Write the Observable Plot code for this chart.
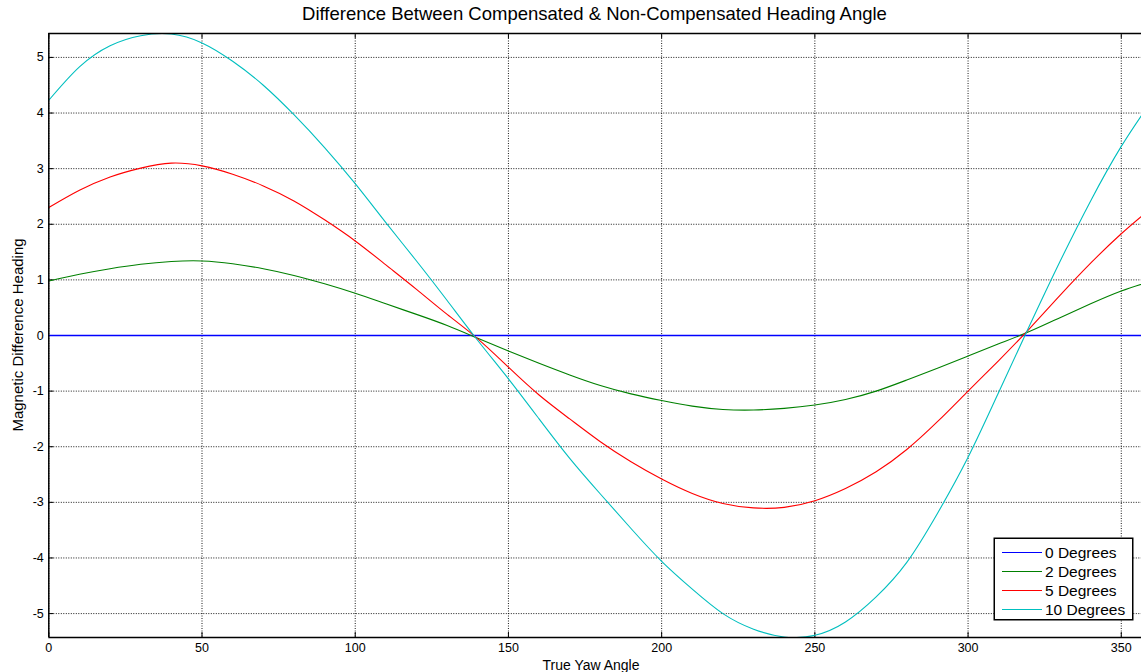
<!DOCTYPE html>
<html><head><meta charset="utf-8">
<script src="https://cdn.jsdelivr.net/npm/d3@7"></script>
<script src="https://cdn.jsdelivr.net/npm/@observablehq/plot@0.6"></script>
<style>
html,body{margin:0;padding:0;background:#fff;overflow:hidden}
#wrap{position:relative;width:1141px;height:672px;font-family:"Liberation Sans",Arial,sans-serif;color:#000;overflow:hidden}
#title{box-sizing:border-box;height:28px;padding-top:4px;line-height:20px;font-size:18.5px;padding-left:48px;text-align:center;white-space:nowrap}
#chart svg{display:block;overflow:hidden}
#ylab{position:absolute;left:17px;top:335px;transform:translate(-50%,-50%) rotate(-90deg);font-size:15px;white-space:nowrap}
#xlab{position:absolute;left:591px;top:656px;transform:translateX(-50%);font-size:14px;line-height:18px;white-space:nowrap}
#legend{position:absolute;left:994px;top:538px;width:139px;height:82px;box-sizing:border-box;border:1px solid #000;box-shadow:0 0 0 0.5px #000;background:#fff;padding-top:4px}
#legend .row{position:relative;height:19px;font-size:15.5px;line-height:19px;white-space:nowrap;padding-left:50px}
#legend .sw{position:absolute;left:7px;top:9px;width:40px;height:1px}
</style></head>
<body>
<div id="wrap">
  <div id="title">Difference Between Compensated &amp; Non-Compensated Heading Angle</div>
  <div id="chart"></div>
  <div id="ylab">Magnetic Difference Heading</div>
  <div id="xlab">True Yaw Angle</div>
  <div id="legend"></div>
</div>
<script>
// ---- data ----
const angles = [0,10,20,30,40,50,60,70,80,90,100,110,120,130,140,150,160,170,180,190,200,210,220,230,240,250,260,270,280,290,300,310,320,330,340,350,360];
const diff0  = [0,0,0,0,0,0,0,0,0,0,0,0,0,0,0,0,0,0,0,0,0,0,0,0,0,0,0,0,0,0,0,0,0,0,0,0,0];
const diff2  = [0.98,1.10,1.20,1.28,1.33,1.34,1.29,1.20,1.08,0.93,0.76,0.57,0.38,0.18,-0.05,-0.28,-0.50,-0.71,-0.90,-1.05,-1.17,-1.27,-1.33,-1.34,-1.31,-1.25,-1.15,-1.00,-0.80,-0.59,-0.37,-0.15,0.07,0.32,0.57,0.80,0.98];
const diff5  = [2.30,2.61,2.85,3.01,3.10,3.05,2.90,2.69,2.42,2.08,1.70,1.27,0.83,0.38,-0.06,-0.57,-1.07,-1.50,-1.91,-2.27,-2.58,-2.84,-3.02,-3.10,-3.09,-2.97,-2.75,-2.45,-2.05,-1.55,-1.00,-0.45,0.12,0.72,1.30,1.83,2.30];
const diff10 = [4.23,4.83,5.21,5.39,5.42,5.26,4.93,4.50,3.97,3.38,2.73,2.03,1.34,0.63,-0.09,-0.78,-1.50,-2.21,-2.85,-3.47,-4.06,-4.56,-5.00,-5.28,-5.42,-5.39,-5.15,-4.70,-4.08,-3.20,-2.19,-1.02,0.17,1.33,2.42,3.40,4.23];
const seriesNames = ["0 Degrees","2 Degrees","5 Degrees","10 Degrees"];
const seriesColors = ["#0000FF","#008000","#FF0000","#00BFBF"];
const xTicks = [0,50,100,150,200,250,300,350];
const yTicks = [-5,-4,-3,-2,-1,0,1,2,3,4,5];
const xDomain = [0, 356.6];
const yDomain = [-5.43, 5.43];

const seriesValues = [diff0, diff2, diff5, diff10];
const rows = [];
seriesValues.forEach((vals, s) => vals.forEach((v, i) => rows.push({angle: angles[i], value: v, series: seriesNames[s]})));

const W = 1141, H = 644, mL = 48.3, mT = 5, mB = 35, mR = 0;
const innerH = H - mT - mB, innerW = W - mL - mR;

const chart = Plot.plot({
  width: W, height: H,
  marginLeft: mL, marginRight: mR, marginTop: mT, marginBottom: mB,
  style: {fontFamily: '"Liberation Sans", Arial, sans-serif', fontSize: "12.5px", color: "#000", background: "#fff", overflow: "hidden"},
  x: {domain: xDomain, ticks: xTicks},
  y: {domain: yDomain, ticks: yTicks},
  color: {domain: seriesNames, range: seriesColors},
  marks: [
    Plot.gridX(xTicks, {stroke: "#000", strokeOpacity: 0.9, strokeDasharray: "1,1.5"}),
    Plot.gridY(yTicks, {stroke: "#000", strokeOpacity: 0.9, strokeDasharray: "1,1.5"}),
    Plot.tickX(xTicks, {x: d => d, insetTop: innerH - 5, stroke: "#000"}),
    Plot.tickX(xTicks, {x: d => d, insetBottom: innerH - 5, stroke: "#000"}),
    Plot.tickY(yTicks, {y: d => d, insetRight: innerW - 5, stroke: "#000"}),
    Plot.line(rows, {x: "angle", y: "value", z: "series", stroke: "series", strokeWidth: d => d.series === "0 Degrees" ? 1.6 : 1.1, curve: "natural", clip: true}),
    Plot.ruleX([xDomain[0]], {stroke: "#000", strokeWidth: 1.5}),
    Plot.ruleY(yDomain, {stroke: "#000", strokeWidth: 1.5}),
    Plot.axisX(xTicks, {tickSize: 0, tickPadding: 6, label: null, fontSize: 12.5, tickFormat: d => String(d)}),
    Plot.axisY(yTicks, {tickSize: 0, tickPadding: 5, label: null, fontSize: 12.5, tickFormat: d => String(d)})
  ]
});
document.getElementById("chart").appendChild(chart);

const legend = document.getElementById("legend");
seriesNames.forEach((name, i) => {
  const row = document.createElement("div");
  row.className = "row";
  const sw = document.createElement("span");
  sw.className = "sw";
  sw.style.background = seriesColors[i];
  const t = document.createElement("span");
  t.textContent = name;
  row.appendChild(sw); row.appendChild(t);
  legend.appendChild(row);
});
</script>
</body></html>
